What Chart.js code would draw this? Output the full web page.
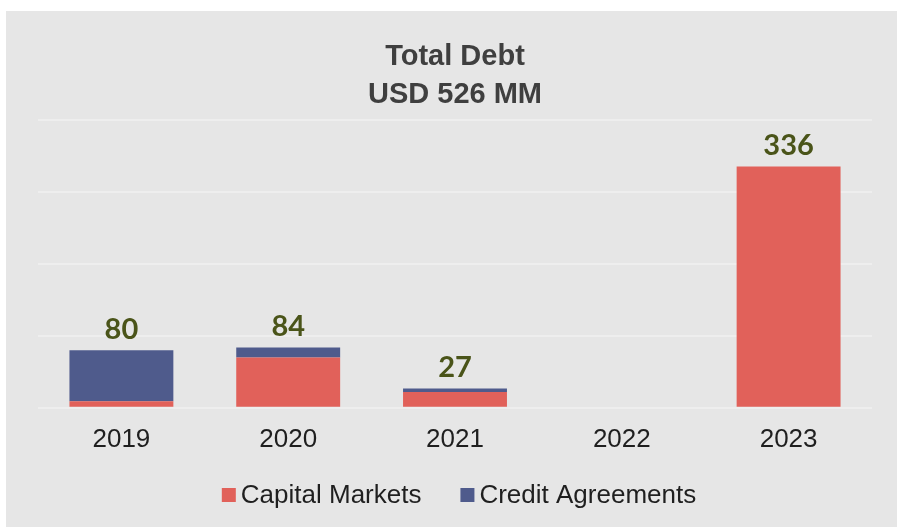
<!DOCTYPE html>
<html>
<head>
<meta charset="utf-8">
<script src="https://cdn.jsdelivr.net/npm/chart.js@4/dist/chart.umd.min.js"></script>
<style>
  html, body { margin: 0; padding: 0; background: #ffffff; }
  #panel { position: absolute; left: 6px; top: 11px; width: 891px; height: 516px; background: #e6e6e6; }
  canvas { display: block; }
</style>
</head>
<body>
<div id="panel"><canvas id="debt" width="891" height="516"></canvas></div>
<script>
// Données du graphique
const years = ['2019', '2020', '2021', '2022', '2023'];
const capitalMarkets = [9, 70, 22, 0, 336];
const creditAgreements = [71, 14, 5, 0, 0];
const titleLines = ['Total Debt', 'USD 526 MM'];
const seriesNames = ['Capital Markets', 'Credit Agreements'];

const COLORS = {
  red: '#e1615a',
  blue: '#4f5b8c',
  grid: '#eeeeee',
  label: '#4a5419',
  title: '#3f3f3f',
  text: '#1f1f1f',
};

// Totaux au-dessus des barres empilées
const totalsPlugin = {
  id: 'totals',
  afterDatasetsDraw(chart) {
    const ctx = chart.ctx;
    const yScale = chart.scales.y;
    const meta = chart.getDatasetMeta(0);
    ctx.save();
    ctx.font = "bold 29px Lato";
    ctx.fillStyle = COLORS.label;
    ctx.textAlign = 'center';
    ctx.textBaseline = 'middle';
    years.forEach((y, i) => {
      const total = capitalMarkets[i] + creditAgreements[i];
      if (!total) return;
      const x = meta.data[i].x;
      ctx.fillText(String(total), x, yScale.getPixelForValue(total) - 21);
    });
    ctx.restore();
  },
};

// Légende dessinée à la main (écart boîte/texte serré)
const legendPlugin = {
  id: 'customLegend',
  afterDraw(chart) {
    const ctx = chart.ctx;
    const colors = [COLORS.red, COLORS.blue];
    const box = 14, gap = 5, spacing = 39;
    ctx.save();
    ctx.font = "26px 'Liberation Sans', Arial";
    const widths = seriesNames.map(n => ctx.measureText(n).width);
    const total = widths.reduce((a, w) => a + box + gap + w, 0) + spacing;
    const area = chart.chartArea;
    let x = (area.left + area.right) / 2 + 4 - total / 2;
    const y = 484;
    ctx.textBaseline = 'middle';
    seriesNames.forEach((name, i) => {
      ctx.fillStyle = colors[i];
      ctx.fillRect(x, y - box / 2, box, box);
      ctx.fillStyle = COLORS.text;
      ctx.fillText(name, x + box + gap, y + 1);
      x += box + gap + widths[i] + spacing;
    });
    ctx.restore();
  },
};

new Chart(document.getElementById('debt'), {
  type: 'bar',
  data: {
    labels: years,
    datasets: [
      { label: seriesNames[0], data: capitalMarkets, backgroundColor: COLORS.red },
      { label: seriesNames[1], data: creditAgreements, backgroundColor: COLORS.blue },
    ],
  },
  options: {
    responsive: false,
    animation: false,
    devicePixelRatio: 1,
    barPercentage: 0.623,
    categoryPercentage: 1,
    layout: { padding: { left: 32, right: 25, top: 0, bottom: 64 } },
    plugins: {
      legend: { display: false },
      tooltip: { enabled: false },
      title: {
        display: true,
        text: titleLines,
        color: COLORS.title,
        font: { family: "'Liberation Sans', Arial", size: 29, weight: 'bold', lineHeight: 1.3 },
        padding: { top: 27, bottom: 7 },
      },
    },
    scales: {
      x: {
        stacked: true,
        grid: { display: false },
        border: { display: false },
        ticks: {
          color: COLORS.text,
          padding: 8,
          font: { family: "'Liberation Sans', Arial", size: 26 },
        },
      },
      y: {
        stacked: true,
        min: 0,
        max: 400,
        ticks: { display: false, stepSize: 100 },
        grid: { color: COLORS.grid, lineWidth: 2, drawTicks: false },
        border: { display: false },
      },
    },
  },
  plugins: [totalsPlugin, legendPlugin],
});
</script>
</body>
</html>
